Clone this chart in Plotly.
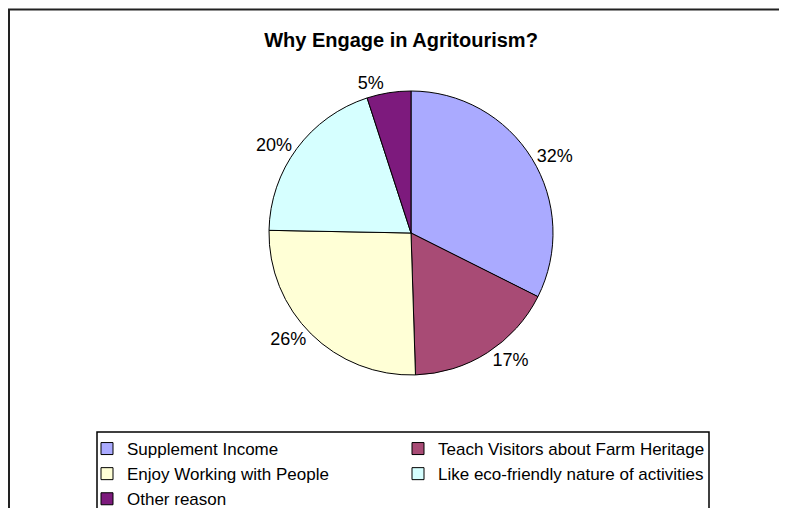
import plotly.graph_objects as go

W, H = 787, 508

categories = ["Supplement Income", "Teach Visitors about Farm Heritage",
              "Enjoy Working with People", "Like eco-friendly nature of activities",
              "Other reason"]
values = [32.4, 17.1, 25.8, 19.7, 5.0]
colors = ["#AAAAFF", "#A84B75", "#FFFFD6", "#D6FFFF", "#7D1A7D"]

FONT = "Liberation Sans, Arial"
# page body has an 8px margin, so figure coords are page coords minus 8
cx, cy, r = 403, 225, 142

fig = go.Figure(go.Pie(
    labels=categories,
    values=values,
    sort=False,
    direction="clockwise",
    rotation=0,
    marker=dict(colors=colors, line=dict(color="black", width=1)),
    textposition="outside",
    texttemplate="%{percent:.0%}",
    textfont=dict(family=FONT, size=18, color="black"),
    hoverinfo="label+percent",
    domain=dict(x=[(cx - r) / W, (cx + r) / W], y=[1 - (cy + r) / H, 1 - (cy - r) / H]),
))

fig.update_layout(
    width=W, height=H,
    margin=dict(l=0, r=0, t=0, b=0, autoexpand=False),
    paper_bgcolor="white",
    title=dict(text="<b>Why Engage in Agritourism?</b>", x=393 / W, xanchor="center",
               y=1 - 32 / H, yanchor="middle",
               font=dict(family=FONT, size=20, color="black")),
    legend=dict(orientation="h", x=79 / W, xanchor="left", y=1 - 423 / H, yanchor="top",
                entrywidth=266, entrywidthmode="pixels",
                borderwidth=0, bgcolor="rgba(0,0,0,0)",
                font=dict(family=FONT, size=17, color="black"),
                itemclick=False, itemdoubleclick=False),
    shapes=[
        dict(type="rect", xref="paper", yref="paper",
             x0=1 / W, x1=1.2, y0=-0.2, y1=1 - 1.5 / H,
             line=dict(color="#222222", width=2), fillcolor="rgba(0,0,0,0)", layer="below"),
        dict(type="rect", xref="paper", yref="paper",
             x0=89 / W, x1=701 / W, y0=-0.2, y1=1 - 424 / H,
             line=dict(color="black", width=1.5), fillcolor="rgba(0,0,0,0)", layer="below"),
    ],
    showlegend=True,
)

fig.write_html("out.html")
